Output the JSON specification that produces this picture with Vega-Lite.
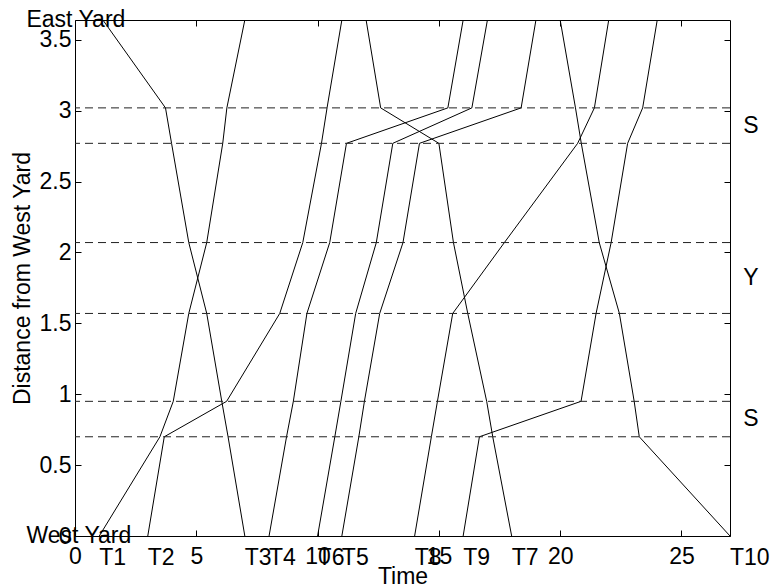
{
  "$schema": "https://vega.github.io/schema/vega-lite/v6.json",
  "width": 655,
  "height": 516,
  "autosize": "none",
  "padding": {"left": 75, "top": 20, "right": 45, "bottom": 52},
  "background": "white",
  "config": {
    "view": {"stroke": "black", "strokeWidth": 1},
    "axis": {
      "grid": false, "domain": false, "tickColor": "black", "tickSize": -6, "tickWidth": 1,
      "labelFont": "Liberation Sans", "labelFontSize": 23, "labelColor": "black", "labelFlush": false,
      "titleFont": "Liberation Sans", "titleFontSize": 23, "titleFontWeight": "normal", "titleColor": "black"
    },
    "text": {"font": "Liberation Sans", "fontSize": 23, "color": "black"}
  },
  "datasets": {
    "trains": [
      {"train": "T1", "seq": 1, "t": 1.0, "d": 0}, {"train": "T1", "seq": 2, "t": 3.5, "d": 0.7}, {"train": "T1", "seq": 3, "t": 4.05, "d": 0.95}, {"train": "T1", "seq": 4, "t": 4.69, "d": 1.57}, {"train": "T1", "seq": 5, "t": 5.43, "d": 2.07}, {"train": "T1", "seq": 6, "t": 6.09, "d": 2.77}, {"train": "T1", "seq": 7, "t": 6.26, "d": 3.02}, {"train": "T1", "seq": 8, "t": 7.0, "d": 3.64},
      {"train": "T2", "seq": 1, "t": 3.0, "d": 0}, {"train": "T2", "seq": 2, "t": 3.68, "d": 0.7}, {"train": "T2", "seq": 3, "t": 6.25, "d": 0.95}, {"train": "T2", "seq": 4, "t": 8.44, "d": 1.57}, {"train": "T2", "seq": 5, "t": 9.39, "d": 2.07}, {"train": "T2", "seq": 6, "t": 10.16, "d": 2.77}, {"train": "T2", "seq": 7, "t": 10.39, "d": 3.02}, {"train": "T2", "seq": 8, "t": 11.0, "d": 3.64},
      {"train": "T3", "seq": 1, "t": 1.15, "d": 3.64}, {"train": "T3", "seq": 2, "t": 3.73, "d": 3.02}, {"train": "T3", "seq": 3, "t": 3.98, "d": 2.77}, {"train": "T3", "seq": 4, "t": 4.69, "d": 2.07}, {"train": "T3", "seq": 5, "t": 5.43, "d": 1.57}, {"train": "T3", "seq": 6, "t": 6.05, "d": 0.95}, {"train": "T3", "seq": 7, "t": 6.31, "d": 0.7}, {"train": "T3", "seq": 8, "t": 7.0, "d": 0},
      {"train": "T4", "seq": 1, "t": 8.0, "d": 0}, {"train": "T4", "seq": 2, "t": 8.72, "d": 0.7}, {"train": "T4", "seq": 3, "t": 9.0, "d": 0.95}, {"train": "T4", "seq": 4, "t": 9.56, "d": 1.57}, {"train": "T4", "seq": 5, "t": 10.5, "d": 2.07}, {"train": "T4", "seq": 6, "t": 11.19, "d": 2.77}, {"train": "T4", "seq": 7, "t": 15.37, "d": 3.02}, {"train": "T4", "seq": 8, "t": 16.0, "d": 3.64},
      {"train": "T6", "seq": 1, "t": 10.0, "d": 0}, {"train": "T6", "seq": 2, "t": 10.71, "d": 0.7}, {"train": "T6", "seq": 3, "t": 10.96, "d": 0.95}, {"train": "T6", "seq": 4, "t": 11.57, "d": 1.57}, {"train": "T6", "seq": 5, "t": 12.42, "d": 2.07}, {"train": "T6", "seq": 6, "t": 13.1, "d": 2.77}, {"train": "T6", "seq": 7, "t": 16.36, "d": 3.02}, {"train": "T6", "seq": 8, "t": 17.0, "d": 3.64},
      {"train": "T5", "seq": 1, "t": 11.0, "d": 0}, {"train": "T5", "seq": 2, "t": 11.7, "d": 0.7}, {"train": "T5", "seq": 3, "t": 11.93, "d": 0.95}, {"train": "T5", "seq": 4, "t": 12.56, "d": 1.57}, {"train": "T5", "seq": 5, "t": 13.52, "d": 2.07}, {"train": "T5", "seq": 6, "t": 14.2, "d": 2.77}, {"train": "T5", "seq": 7, "t": 18.39, "d": 3.02}, {"train": "T5", "seq": 8, "t": 19.0, "d": 3.64},
      {"train": "T7", "seq": 1, "t": 12.0, "d": 3.64}, {"train": "T7", "seq": 2, "t": 12.6, "d": 3.02}, {"train": "T7", "seq": 3, "t": 15.0, "d": 2.77}, {"train": "T7", "seq": 4, "t": 15.6, "d": 2.07}, {"train": "T7", "seq": 5, "t": 16.19, "d": 1.57}, {"train": "T7", "seq": 6, "t": 16.97, "d": 0.95}, {"train": "T7", "seq": 7, "t": 17.22, "d": 0.7}, {"train": "T7", "seq": 8, "t": 18.0, "d": 0},
      {"train": "T8", "seq": 1, "t": 14.0, "d": 0}, {"train": "T8", "seq": 2, "t": 14.69, "d": 0.7}, {"train": "T8", "seq": 3, "t": 14.94, "d": 0.95}, {"train": "T8", "seq": 4, "t": 15.57, "d": 1.57}, {"train": "T8", "seq": 5, "t": 17.7, "d": 2.07}, {"train": "T8", "seq": 6, "t": 20.72, "d": 2.77}, {"train": "T8", "seq": 7, "t": 21.41, "d": 3.02}, {"train": "T8", "seq": 8, "t": 22.0, "d": 3.64},
      {"train": "T9", "seq": 1, "t": 16.0, "d": 0}, {"train": "T9", "seq": 2, "t": 16.67, "d": 0.7}, {"train": "T9", "seq": 3, "t": 20.86, "d": 0.95}, {"train": "T9", "seq": 4, "t": 21.48, "d": 1.57}, {"train": "T9", "seq": 5, "t": 22.1, "d": 2.07}, {"train": "T9", "seq": 6, "t": 22.78, "d": 2.77}, {"train": "T9", "seq": 7, "t": 23.4, "d": 3.02}, {"train": "T9", "seq": 8, "t": 24.0, "d": 3.64},
      {"train": "T10", "seq": 1, "t": 20.0, "d": 3.64}, {"train": "T10", "seq": 2, "t": 20.63, "d": 3.02}, {"train": "T10", "seq": 3, "t": 20.87, "d": 2.77}, {"train": "T10", "seq": 4, "t": 21.61, "d": 2.07}, {"train": "T10", "seq": 5, "t": 22.44, "d": 1.57}, {"train": "T10", "seq": 6, "t": 23.05, "d": 0.95}, {"train": "T10", "seq": 7, "t": 23.26, "d": 0.7}, {"train": "T10", "seq": 8, "t": 27.0, "d": 0}
    ],
    "sidings": [{"d": 0.7}, {"d": 0.95}, {"d": 1.57}, {"d": 2.07}, {"d": 2.77}, {"d": 3.02}],
    "trainLabels": [
      {"label": "T1", "t": 1.0}, {"label": "T2", "t": 3.0}, {"label": "T3", "t": 7.0}, {"label": "T4", "t": 8.0}, {"label": "T6", "t": 10.0},
      {"label": "T5", "t": 11.0}, {"label": "T8", "t": 14.0}, {"label": "T9", "t": 16.0}, {"label": "T7", "t": 18.0}, {"label": "T10", "t": 27.0}
    ],
    "places": [
      {"label": "East Yard", "t": -2, "d": 3.64}, {"label": "West Yard", "t": -2, "d": 0},
      {"label": "S", "t": 27.55, "d": 2.895}, {"label": "Y", "t": 27.55, "d": 1.82}, {"label": "S", "t": 27.55, "d": 0.825}
    ]
  },
  "resolve": {"scale": {"x": "shared", "y": "shared"}, "axis": {"x": "independent", "y": "independent"}},
  "layer": [
    {
      "data": {"name": "trains"},
      "mark": {"type": "line", "color": "black", "strokeWidth": 1},
      "encoding": {
        "x": {"field": "t", "type": "quantitative", "scale": {"domain": [0, 27], "nice": false, "zero": false},
              "axis": {"orient": "bottom", "values": [0, 5, 10, 15, 20, 25], "title": "Time", "labelPadding": 15, "titlePadding": -3}},
        "y": {"field": "d", "type": "quantitative", "scale": {"domain": [0, 3.64], "nice": false, "zero": false},
              "axis": {"orient": "left", "values": [0, 0.5, 1, 1.5, 2, 2.5, 3, 3.5], "format": "~g", "title": "Distance from West Yard", "labelPadding": 10, "titlePadding": 5}},
        "detail": {"field": "train"},
        "order": {"field": "seq", "type": "quantitative"}
      }
    },
    {
      "data": {"name": "sidings"},
      "mark": {"type": "rule", "color": "#222222", "strokeWidth": 1, "strokeDash": [8, 5]},
      "encoding": {
        "y": {"field": "d", "type": "quantitative", "scale": {"domain": [0, 3.64], "nice": false, "zero": false},
              "axis": {"orient": "right", "values": [0, 0.5, 1, 1.5, 2, 2.5, 3, 3.5], "labels": false, "title": null}}
      }
    },
    {
      "data": {"name": "trainLabels"},
      "mark": {"type": "text", "align": "left", "baseline": "middle"},
      "encoding": {
        "x": {"field": "t", "type": "quantitative", "scale": {"domain": [0, 27], "nice": false, "zero": false},
              "axis": {"orient": "top", "values": [0, 5, 10, 15, 20, 25], "labels": false, "title": null}},
        "y": {"datum": -0.155, "type": "quantitative", "axis": null},
        "text": {"field": "label"}
      }
    },
    {
      "data": {"name": "places"},
      "mark": {"type": "text", "align": "left", "baseline": "middle"},
      "encoding": {
        "x": {"field": "t", "type": "quantitative", "axis": null},
        "y": {"field": "d", "type": "quantitative", "axis": null},
        "text": {"field": "label"}
      }
    }
  ]
}
